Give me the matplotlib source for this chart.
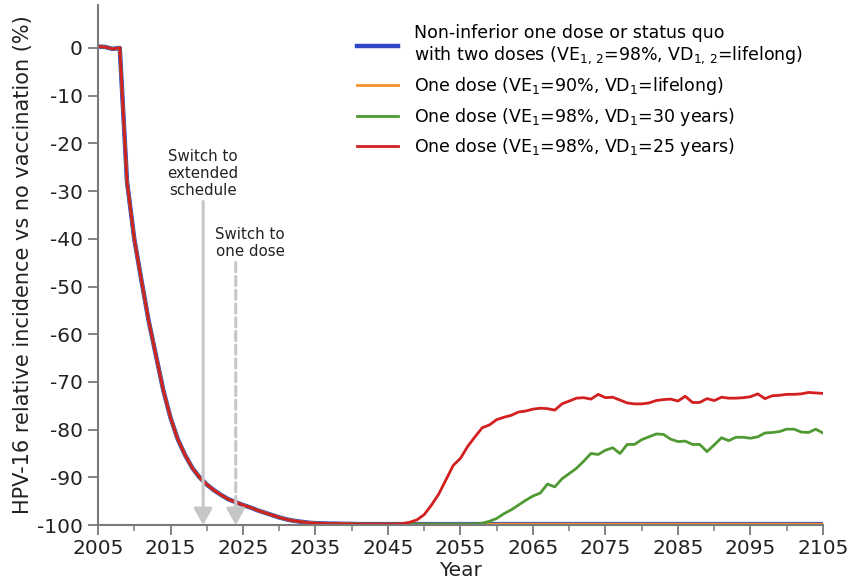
import numpy as np
import matplotlib.pyplot as plt

# Jahre 2005..2105 (jaehrliche Werte)
years = np.arange(2005, 2106)

# Basisverlauf: nicht-unterlegene Einzeldosis / Status quo (2005..2105)
base = [0.3, 0.2, -0.2, 0.0, -28.0, -40.0, -48.8, -57.3, -64.5, -71.7,
        -77.5, -82.0, -85.3, -88.0, -90.0, -91.5, -92.7, -93.7, -94.6, -95.2,
        -95.8, -96.3, -96.9, -97.4, -97.9, -98.4, -98.8, -99.1, -99.3, -99.5,
        -99.6, -99.65, -99.7, -99.7, -99.75, -99.75, -99.8, -99.8, -99.8, -99.8,
        -99.8, -99.8, -99.8, -99.8, -99.8, -99.8, -99.8, -99.8, -99.8, -99.8,
        -99.8, -99.8, -99.8, -99.8, -99.8, -99.8, -99.8, -99.8, -99.8, -99.8,
        -99.8, -99.8, -99.8, -99.8, -99.8, -99.8, -99.8, -99.8, -99.8, -99.8,
        -99.8, -99.8, -99.8, -99.8, -99.8, -99.8, -99.8, -99.8, -99.8, -99.8,
        -99.8, -99.8, -99.8, -99.8, -99.8, -99.8, -99.8, -99.8, -99.8, -99.8,
        -99.8, -99.8, -99.8, -99.8, -99.8, -99.8, -99.8, -99.8, -99.8, -99.8,
        -99.8]

# VD1 = 30 Jahre, ab 2058
green_tail = [-99.6, -99.2, -98.6, -97.6, -96.8, -95.8, -94.8, -93.9, -93.3, -91.4,
              -92.0, -90.3, -89.2, -88.1, -86.6, -85.0, -85.2, -84.3, -83.8, -85.0,
              -83.1, -83.1, -82.1, -81.5, -80.9, -81.0, -82.0, -82.5, -82.4, -83.1,
              -83.1, -84.6, -83.2, -81.7, -82.3, -81.6, -81.6, -81.8, -81.5, -80.7,
              -80.6, -80.4, -79.9, -79.9, -80.5, -80.6, -79.9, -80.7]

# VD1 = 25 Jahre, ab 2047
red_tail = [-99.7, -99.4, -98.9, -97.8, -95.8, -93.5, -90.5, -87.5, -86.0, -83.5,
            -81.5, -79.6, -79.0, -77.9, -77.4, -77.0, -76.3, -76.1, -75.7, -75.5,
            -75.6, -75.9, -74.6, -74.0, -73.4, -73.3, -73.6, -72.6, -73.3, -73.2,
            -73.8, -74.4, -74.6, -74.6, -74.4, -73.9, -73.7, -73.6, -74.0, -73.0,
            -74.3, -74.3, -73.5, -73.9, -73.2, -73.4, -73.4, -73.3, -73.1, -72.5,
            -73.5, -72.9, -72.8, -72.6, -72.6, -72.5, -72.2, -72.3, -72.4]

blue = base
orange = base
green = base[:53] + green_tail
red = base[:42] + red_tail

labels = [
    'Non-inferior one dose or status quo\nwith two doses (VE$_{1,\\,2}$=98%, VD$_{1,\\,2}$=lifelong)',
    'One dose (VE$_1$=90%, VD$_1$=lifelong)',
    'One dose (VE$_1$=98%, VD$_1$=30 years)',
    'One dose (VE$_1$=98%, VD$_1$=25 years)',
]

# Zeitpunkte der Umstellungen
switch_extended = 2019.5
switch_one_dose = 2024

plt.rcParams['font.family'] = 'DejaVu Sans'
plt.rcParams['mathtext.fontset'] = 'dejavusans'
plt.rcParams['axes.unicode_minus'] = False

fig = plt.figure(figsize=(8.5, 5.88), dpi=100)
ax = fig.add_axes([0.1153, 0.107, 0.8529, 0.8845])

ax.plot(years, blue, color='#2f47c4', lw=3.2, label=labels[0])
ax.plot(years, orange, color='#f7902c', lw=2, label=labels[1])
ax.plot(years, green, color='#4f9a32', lw=2, label=labels[2])
ax.plot(years, red, color='#d21f1f', lw=2, label=labels[3])

# Pfeile fuer die Umstellungen
gray = '#c6c6c6'
head = dict(arrowstyle='-|>,head_length=0.5,head_width=0.28', mutation_scale=20,
            color=gray, lw=2.2, shrinkA=0, shrinkB=0)
ax.annotate('', xy=(switch_extended, -100), xytext=(switch_extended, -32.2),
            arrowprops=head)
# gestrichelter Schaft + massive Spitze
ax.annotate('', xy=(switch_one_dose, -96), xytext=(switch_one_dose, -45),
            arrowprops=dict(arrowstyle='-', color=gray, lw=2.2,
                            linestyle=(0, (3, 1.5)), shrinkA=0, shrinkB=0))
ax.annotate('', xy=(switch_one_dose, -100), xytext=(switch_one_dose, -96),
            arrowprops=head)
ax.text(switch_extended, -31.5, 'Switch to\nextended\nschedule', ha='center', va='bottom',
        fontsize=10.8, color='#222222', linespacing=1.18)
ax.text(switch_one_dose + 2, -44.3, 'Switch to\none dose', ha='center', va='bottom',
        fontsize=10.8, color='#222222', linespacing=1.18)

ax.set_xlim(2005, 2105)
ax.set_ylim(-100, 9)
ax.set_xticks(range(2005, 2106, 10))
ax.set_xticks(range(2010, 2106, 10), minor=True)
ax.set_yticks(range(-100, 1, 10))

spine_col = '#7a7a7a'
for s in ['top', 'right']:
    ax.spines[s].set_visible(False)
for s in ['left', 'bottom']:
    ax.spines[s].set_color(spine_col)
    ax.spines[s].set_linewidth(1.5)
ax.tick_params(axis='both', which='major', labelsize=14.5, colors=spine_col,
               labelcolor='#222222', width=1.3, length=7)
ax.tick_params(axis='x', which='minor', colors=spine_col, width=1.1, length=4)
ax.tick_params(axis='y', pad=4)
ax.tick_params(axis='x', pad=3)

ax.set_xlabel('Year', fontsize=14.5, color='#222222', labelpad=2)
ax.set_ylabel('HPV-16 relative incidence vs no vaccination (%)', fontsize=15,
              color='#222222', labelpad=3)

leg = ax.legend(loc='upper left', bbox_to_anchor=(0.357, 0.964), frameon=False,
                fontsize=12.5, handlelength=2.4, handletextpad=0.9,
                labelspacing=0.5, borderpad=0, borderaxespad=0)

plt.savefig('out.png', dpi=100)
